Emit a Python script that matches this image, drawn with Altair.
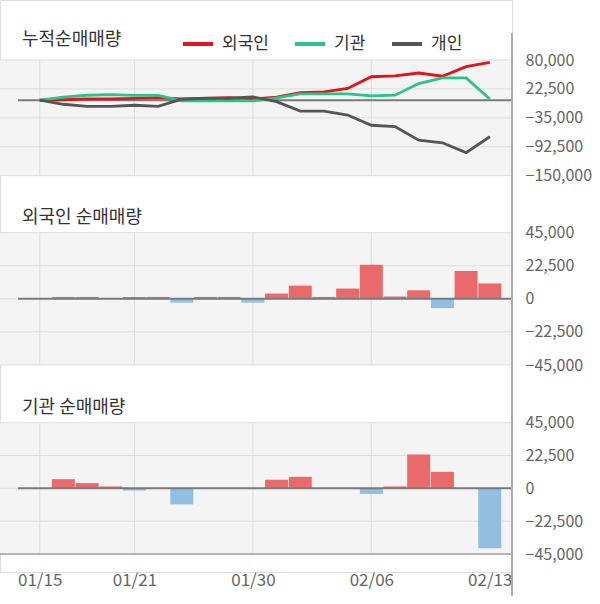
import json
import altair as alt
import pandas as pd

# ---------------- data ----------------
dates = ["01/15", "01/16", "01/17", "01/20", "01/21", "01/22", "01/23", "01/28", "01/29", "01/30",
         "01/31", "02/03", "02/04", "02/05", "02/06", "02/07", "02/10", "02/11", "02/12", "02/13"]
label_dates = ["01/15", "01/21", "01/30", "02/06", "02/13"]
grid_dates = ["01/15", "01/21", "01/30", "02/06"]

series_names = ["외국인", "기관", "개인"]
foreign_cum = [0, 1300, 2600, 2600, 3900, 5200, 2600, 3900, 5200, 2600,
               6200, 15200, 16500, 23500, 46700, 48300, 54100, 47800, 66800, 75500]
inst_cum = [0, 6300, 9900, 11200, 9700, 9700, -1300, -1300, -1300, -1300,
            4600, 12500, 12500, 12500, 8700, 10000, 33200, 44500, 44500, 2500]
indiv_cum = [0, -8000, -12000, -12000, -10000, -12000, 2000, 4000, 4000, 6700,
             -2700, -21500, -21500, -29500, -49700, -52400, -79500, -84500, -104000, -72500]

foreign_daily = [0, 1300, 1300, 0, 1300, 1300, -2600, 1300, 1300, -2600,
                 3600, 9000, 1300, 7000, 23200, 1600, 5800, -6300, 19000, 10500]
inst_daily = [0, 6300, 3600, 1300, -1500, 0, -11000, 0, 0, 0,
              5900, 7900, 0, 0, -3800, 1300, 23200, 11300, 0, -41000]

cum_ticks = [80000, 22500, -35000, -92500, -150000]
daily_ticks = [45000, 22500, 0, -22500, -45000]
titles = ["누적순매매량", "외국인 순매매량", "기관 순매매량"]

# ---------------- style ----------------
W, H = 512, 572
FONT = "Noto Sans CJK KR"
LINE_COLORS = ["#e2131b", "#2cc38b", "#555555"]
UP, DOWN = "#ea6a6c", "#92bee2"
BG, GRID, ZERO, AXIS_LINE = "#f4f4f4", "#dddddd", "#7a7a7a", "#adadad"
TXT, LBL = "#333333", "#666666"

idx = list(range(len(dates)))
xscale = alt.Scale(domain=[-1.465, 19.727], range=[0, W], nice=False, zero=False)
xaxis = alt.Axis(values=[dates.index(d) for d in label_dates],
                 labelExpr=f"{json.dumps(dates)}[datum.value]",
                 domain=False, ticks=False, grid=False, labelPadding=0,
                 labelFontSize=17, labelColor=LBL, labelFont=FONT, title=None,
                 labelFlush=False, labelOverlap=False)
X = alt.X("i:Q", scale=xscale, axis=xaxis)

days = pd.DataFrame({"i": idx, "date": dates, "foreign": foreign_daily, "inst": inst_daily})
cum = pd.DataFrame({
    "i": idx * 3,
    "series": [series_names[0]] * len(idx) + [series_names[1]] * len(idx) + [series_names[2]] * len(idx),
    "v": foreign_cum + inst_cum + indiv_cum,
})


def panel(ticks, top_px, bottom_px, content, bottom_dark=False):
    lo, hi = min(ticks), max(ticks)
    ys = alt.Scale(domain=[lo, hi], range=[bottom_px, top_px], nice=False, zero=False)
    yaxis = alt.Axis(orient="right", values=ticks, labelExpr="format(datum.value, ',')",
                     domain=False, ticks=False, grid=False, labelPadding=13,
                     labelFontSize=16, labelColor=LBL, labelFont=FONT, title=None,
                     labelFlush=False, labelOverlap=False)
    layers = []
    layers.append(alt.Chart(pd.DataFrame({"hi": [hi], "lo": [lo]})).mark_rect(color=BG).encode(
        x=alt.value(0), x2=alt.value(W), y=alt.Y("hi:Q", scale=ys, axis=None), y2="lo:Q"))
    layers.append(alt.Chart(pd.DataFrame({"t": ticks})).mark_rule(color=GRID, strokeWidth=1).encode(
        x=alt.value(0), x2=alt.value(W), y=alt.Y("t:Q", scale=ys, axis=yaxis)))
    vg = pd.DataFrame({"i": [dates.index(d) for d in grid_dates]})
    vg["hi"], vg["lo"] = hi, lo
    layers.append(alt.Chart(vg).mark_rule(color=GRID, strokeWidth=1).encode(
        x=X, y=alt.Y("hi:Q", scale=ys, axis=None), y2="lo:Q"))
    if bottom_dark:
        layers.append(alt.Chart(pd.DataFrame({"lo": [lo]})).mark_rule(color="#b4b4b4", strokeWidth=2).encode(
            x=alt.value(0), x2=alt.value(W), y=alt.Y("lo:Q", scale=ys, axis=None)))
    zero_rule = alt.Chart(pd.DataFrame({"z": [0]})).mark_rule(color=ZERO, strokeWidth=2).encode(
        x=alt.value(18), x2=alt.value(W), y=alt.Y("z:Q", scale=ys, axis=None))
    layers += content(ys, zero_rule)
    return layers


def lines_content(ys, zero_rule):
    ln = alt.Chart(cum).mark_line(strokeWidth=2.8).encode(
        x=X,
        y=alt.Y("v:Q", scale=ys, axis=None),
        color=alt.Color("series:N",
                        scale=alt.Scale(domain=series_names, range=LINE_COLORS),
                        legend=alt.Legend(orient="none", legendX=181, legendY=27,
                                          direction="horizontal", title=None,
                                          symbolType="stroke", symbolSize=900,
                                          symbolStrokeWidth=4, labelFontSize=17,
                                          labelColor=TXT, labelFont=FONT, labelOffset=7,
                                          columnPadding=18, padding=0)),
    )
    return [zero_rule, ln]


def bars_content(col):
    def f(ys, zero_rule):
        b = alt.Chart(days).mark_bar(size=23).encode(
            x=X,
            y=alt.Y(f"{col}:Q", scale=ys, axis=None),
            color=alt.condition(alt.datum[col] >= 0, alt.value(UP), alt.value(DOWN)),
        )
        return [b, zero_rule]
    return f


layers = []
layers += panel(cum_ticks, 60, 175.7, lines_content)
layers += panel(daily_ticks, 232.7, 365, bars_content("foreign"))
layers += panel(daily_ticks, 422.7, 554, bars_content("inst"), bottom_dark=True)

# right vertical axis line spanning all panels
layers.append(alt.Chart(pd.DataFrame({"a": [0]})).mark_rule(color=AXIS_LINE, strokeWidth=2).encode(
    x=alt.value(W), y=alt.value(33), y2=alt.value(596)))

# panel titles
for t, ty in zip(titles, [40, 218, 408]):
    layers.append(alt.Chart(pd.DataFrame({"t": [t]})).mark_text(
        align="left", baseline="middle", fontSize=18, color=TXT, font=FONT).encode(
        text="t:N", x=alt.value(22), y=alt.value(ty)))

chart = alt.layer(*layers).resolve_scale(y="independent").properties(
    width=W, height=H,
    padding={"left": 0, "top": 0, "right": 88, "bottom": 32},
    autosize=alt.AutoSizeParams(type="none"),
    background="white",
).configure_view(stroke=None).configure(font=FONT)

chart.save("out.html", embed_options={"renderer": "svg", "actions": False})
